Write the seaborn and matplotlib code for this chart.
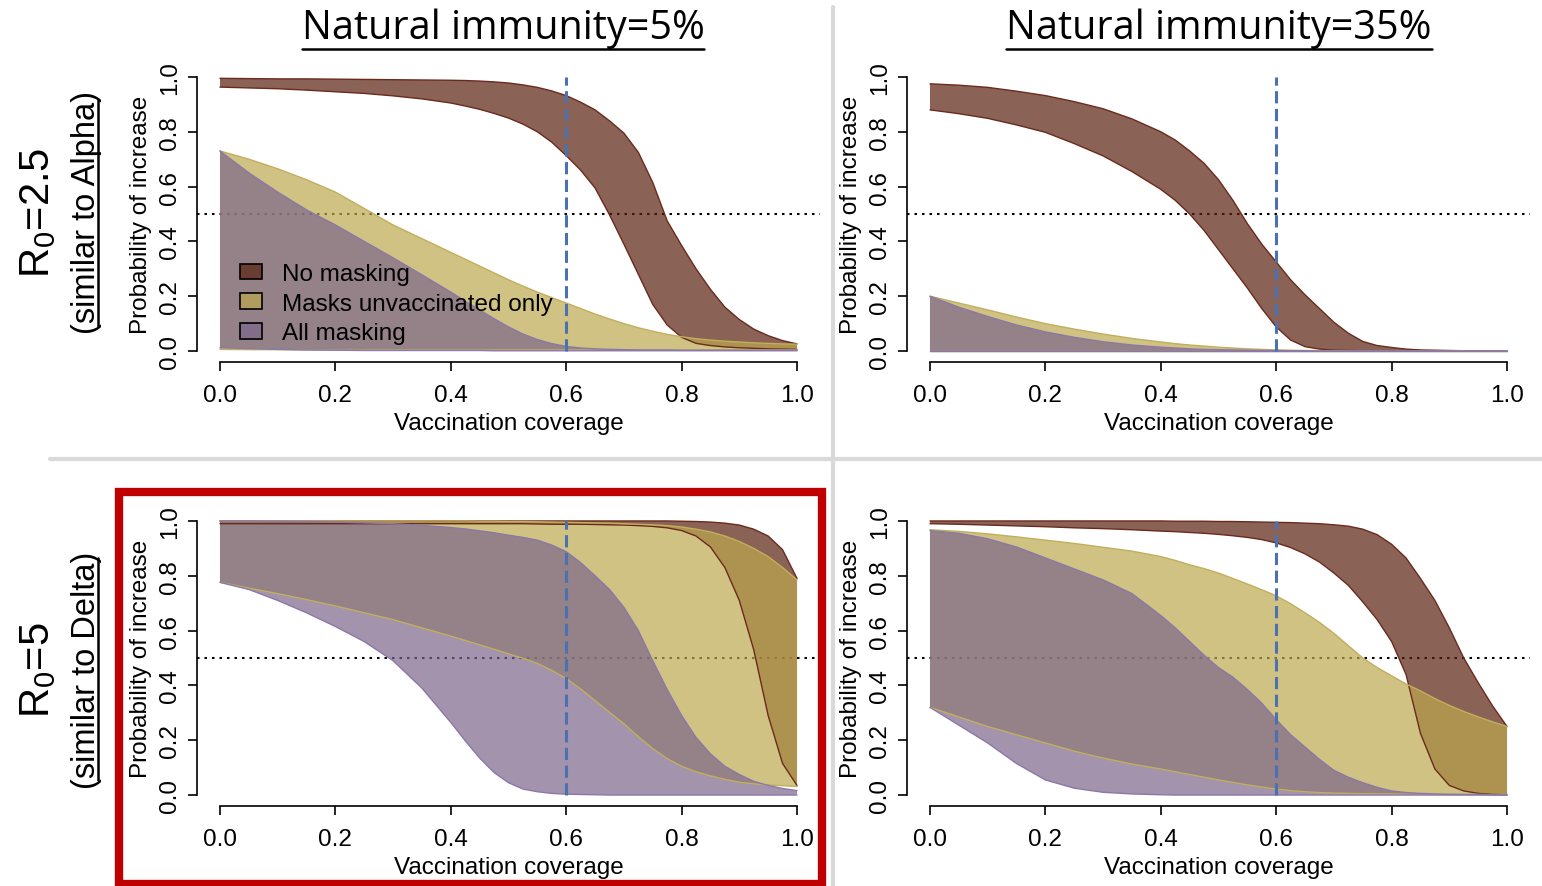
import matplotlib
matplotlib.use("Agg")
import matplotlib.pyplot as plt
from matplotlib.lines import Line2D
from matplotlib.patches import Patch, Rectangle
import seaborn as sns

# x grid shared by every band (vaccination coverage), finer where the curves drop fast
COVERAGE = [0.0, 0.05, 0.1, 0.15, 0.2, 0.25, 0.3, 0.35, 0.4, 0.425, 0.45, 0.475, 0.5, 0.525,
            0.55, 0.575, 0.6, 0.625, 0.65, 0.675, 0.7, 0.725, 0.75, 0.775, 0.8, 0.825, 0.85,
            0.875, 0.9, 0.925, 0.95, 0.975, 1.0]

# R0=2.5, natural immunity 5%
r25_ni5_none_hi = [0.995, 0.994, 0.993, 0.993, 0.992, 0.991, 0.99, 0.989, 0.988, 0.987, 0.985,
                   0.982, 0.978, 0.971, 0.962, 0.949, 0.932, 0.908, 0.88, 0.84, 0.795, 0.725,
                   0.615, 0.475, 0.385, 0.30, 0.225, 0.16, 0.115, 0.08, 0.056, 0.038, 0.026]
r25_ni5_none_lo = [0.963, 0.96, 0.957, 0.952, 0.946, 0.94, 0.931, 0.92, 0.905, 0.894, 0.882,
                   0.867, 0.85, 0.828, 0.80, 0.762, 0.713, 0.66, 0.595, 0.497, 0.39, 0.28,
                   0.17, 0.095, 0.05, 0.028, 0.02, 0.015, 0.012, 0.01, 0.008, 0.007, 0.006]
r25_ni5_unvac_hi = [0.73, 0.70, 0.665, 0.625, 0.58, 0.52, 0.46, 0.41, 0.36, 0.335, 0.31,
                    0.285, 0.26, 0.237, 0.215, 0.195, 0.175, 0.155, 0.135, 0.117, 0.10, 0.085,
                    0.072, 0.061, 0.052, 0.045, 0.04, 0.036, 0.033, 0.03, 0.028, 0.026, 0.025]
r25_ni5_unvac_lo = [0.006, 0.005, 0.005, 0.004, 0.004, 0.004, 0.004, 0.004, 0.004, 0.004, 0.004,
                    0.004, 0.004, 0.004, 0.004, 0.004, 0.004, 0.004, 0.004, 0.004, 0.004, 0.004,
                    0.004, 0.004, 0.004, 0.004, 0.004, 0.004, 0.004, 0.004, 0.004, 0.004, 0.004]
r25_ni5_all_hi = [0.73, 0.65, 0.58, 0.515, 0.46, 0.40, 0.34, 0.278, 0.215, 0.182, 0.15,
                  0.118, 0.088, 0.062, 0.042, 0.027, 0.017, 0.011, 0.008, 0.006, 0.005, 0.004,
                  0.004, 0.004, 0.003, 0.003, 0.003, 0.003, 0.003, 0.003, 0.003, 0.003, 0.003]
r25_ni5_all_lo = [0.012, 0.009, 0.006, 0.004, 0.003, 0.002, 0.002, 0.002, 0.002, 0.002, 0.002,
                  0.001, 0.001, 0.001, 0.001, 0.001, 0.001, 0.001, 0.001, 0.001, 0.001, 0.001,
                  0.001, 0.001, 0.001, 0.001, 0.001, 0.001, 0.001, 0.001, 0.001, 0.001, 0.001]

# R0=2.5, natural immunity 35%
r25_ni35_none_hi = [0.975, 0.97, 0.962, 0.948, 0.932, 0.91, 0.884, 0.847, 0.80, 0.77, 0.73,
                    0.685, 0.625, 0.55, 0.465, 0.39, 0.325, 0.26, 0.205, 0.155, 0.105, 0.065,
                    0.035, 0.02, 0.013, 0.007, 0.004, 0.003, 0.002, 0.001, 0.001, 0.0, 0.0]
r25_ni35_none_lo = [0.88, 0.866, 0.849, 0.825, 0.798, 0.757, 0.712, 0.655, 0.59, 0.55, 0.50,
                    0.44, 0.37, 0.30, 0.23, 0.155, 0.088, 0.04, 0.016, 0.007, 0.003, 0.002,
                    0.001, 0.0, 0.0, 0.0, 0.0, 0.0, 0.0, 0.0, 0.0, 0.0, 0.0]
r25_ni35_unvac_hi = [0.20, 0.175, 0.15, 0.124, 0.10, 0.08, 0.062, 0.046, 0.033, 0.027, 0.022,
                     0.018, 0.014, 0.011, 0.008, 0.006, 0.004, 0.003, 0.002, 0.0015, 0.001, 0.0005,
                     0.0, 0.0, 0.0, 0.0, 0.0, 0.0, 0.0, 0.0, 0.0, 0.0, 0.0]
r25_ni35_unvac_lo = [0.0, 0.0, 0.0, 0.0, 0.0, 0.0, 0.0, 0.0, 0.0, 0.0, 0.0,
                     0.0, 0.0, 0.0, 0.0, 0.0, 0.0, 0.0, 0.0, 0.0, 0.0, 0.0,
                     0.0, 0.0, 0.0, 0.0, 0.0, 0.0, 0.0, 0.0, 0.0, 0.0, 0.0]
r25_ni35_all_hi = [0.20, 0.16, 0.126, 0.095, 0.07, 0.05, 0.034, 0.022, 0.014, 0.011, 0.008,
                   0.006, 0.005, 0.004, 0.003, 0.002, 0.002, 0.001, 0.001, 0.0, 0.0, 0.0,
                   0.0, 0.0, 0.0, 0.0, 0.0, 0.0, 0.0, 0.0, 0.0, 0.0, 0.0]
r25_ni35_all_lo = [0.0, 0.0, 0.0, 0.0, 0.0, 0.0, 0.0, 0.0, 0.0, 0.0, 0.0,
                   0.0, 0.0, 0.0, 0.0, 0.0, 0.0, 0.0, 0.0, 0.0, 0.0, 0.0,
                   0.0, 0.0, 0.0, 0.0, 0.0, 0.0, 0.0, 0.0, 0.0, 0.0, 0.0]

# R0=5, natural immunity 5%
r5_ni5_none_hi = [1.0, 1.0, 1.0, 1.0, 1.0, 1.0, 1.0, 1.0, 1.0, 1.0, 1.0,
                  1.0, 1.0, 1.0, 1.0, 1.0, 1.0, 1.0, 1.0, 1.0, 1.0, 1.0,
                  1.0, 1.0, 0.999, 0.998, 0.996, 0.992, 0.985, 0.97, 0.945, 0.895, 0.79]
r5_ni5_none_lo = [0.99, 0.99, 0.99, 0.99, 0.99, 0.99, 0.99, 0.99, 0.99, 0.99, 0.99,
                  0.99, 0.99, 0.99, 0.989, 0.988, 0.988, 0.988, 0.987, 0.986, 0.985, 0.983,
                  0.98, 0.975, 0.965, 0.945, 0.905, 0.83, 0.71, 0.53, 0.29, 0.115, 0.035]
r5_ni5_unvac_hi = [1.0, 1.0, 1.0, 1.0, 1.0, 1.0, 1.0, 1.0, 1.0, 1.0, 0.999,
                   0.999, 0.998, 0.998, 0.997, 0.996, 0.995, 0.994, 0.993, 0.992, 0.99, 0.988,
                   0.986, 0.983, 0.978, 0.97, 0.96, 0.945, 0.925, 0.90, 0.87, 0.83, 0.785]
r5_ni5_unvac_lo = [0.776, 0.755, 0.735, 0.713, 0.69, 0.665, 0.64, 0.61, 0.58, 0.564, 0.548,
                   0.532, 0.515, 0.499, 0.48, 0.455, 0.425, 0.387, 0.345, 0.302, 0.26, 0.213,
                   0.17, 0.133, 0.105, 0.085, 0.07, 0.057, 0.047, 0.041, 0.037, 0.034, 0.031]
r5_ni5_all_hi = [1.0, 1.0, 0.999, 0.998, 0.996, 0.993, 0.99, 0.984, 0.976, 0.971, 0.964,
                 0.957, 0.948, 0.94, 0.93, 0.912, 0.888, 0.848, 0.80, 0.75, 0.685, 0.60,
                 0.49, 0.385, 0.29, 0.21, 0.15, 0.105, 0.075, 0.05, 0.035, 0.024, 0.016]
r5_ni5_all_lo = [0.776, 0.75, 0.71, 0.665, 0.615, 0.56, 0.49, 0.39, 0.265, 0.198, 0.135,
                 0.082, 0.045, 0.022, 0.012, 0.006, 0.003, 0.002, 0.001, 0.0, 0.0, 0.0,
                 0.0, 0.0, 0.0, 0.0, 0.0, 0.0, 0.0, 0.0, 0.0, 0.0, 0.0]

# R0=5, natural immunity 35%
r5_ni35_none_hi = [1.0, 1.0, 1.0, 1.0, 1.0, 1.0, 1.0, 1.0, 1.0, 0.999, 0.999,
                   0.999, 0.998, 0.998, 0.997, 0.996, 0.995, 0.994, 0.992, 0.99, 0.986, 0.981,
                   0.97, 0.95, 0.915, 0.865, 0.79, 0.71, 0.61, 0.50, 0.41, 0.325, 0.25]
r5_ni35_none_lo = [0.99, 0.988, 0.985, 0.982, 0.979, 0.975, 0.972, 0.968, 0.963, 0.961, 0.958,
                   0.955, 0.951, 0.946, 0.94, 0.932, 0.92, 0.903, 0.88, 0.85, 0.81, 0.765,
                   0.705, 0.64, 0.56, 0.44, 0.225, 0.095, 0.035, 0.015, 0.006, 0.002, 0.001]
r5_ni35_unvac_hi = [0.968, 0.962, 0.953, 0.942, 0.93, 0.918, 0.904, 0.89, 0.87, 0.856, 0.84,
                    0.826, 0.81, 0.79, 0.77, 0.749, 0.727, 0.698, 0.665, 0.63, 0.59, 0.545,
                    0.50, 0.465, 0.435, 0.405, 0.38, 0.352, 0.327, 0.305, 0.285, 0.267, 0.25]
r5_ni35_unvac_lo = [0.32, 0.285, 0.25, 0.22, 0.19, 0.16, 0.135, 0.113, 0.095, 0.085, 0.075,
                    0.065, 0.055, 0.046, 0.037, 0.029, 0.022, 0.016, 0.012, 0.009, 0.007, 0.006,
                    0.005, 0.0045, 0.004, 0.0035, 0.003, 0.0025, 0.002, 0.002, 0.002, 0.001, 0.001]
r5_ni35_all_hi = [0.965, 0.955, 0.935, 0.905, 0.865, 0.825, 0.785, 0.735, 0.655, 0.61, 0.56,
                  0.51, 0.465, 0.43, 0.385, 0.335, 0.275, 0.22, 0.175, 0.13, 0.09, 0.065,
                  0.045, 0.028, 0.015, 0.009, 0.006, 0.004, 0.003, 0.002, 0.002, 0.001, 0.001]
r5_ni35_all_lo = [0.32, 0.255, 0.19, 0.115, 0.055, 0.025, 0.01, 0.004, 0.001, 0.0, 0.0,
                  0.0, 0.0, 0.0, 0.0, 0.0, 0.0, 0.0, 0.0, 0.0, 0.0, 0.0,
                  0.0, 0.0, 0.0, 0.0, 0.0, 0.0, 0.0, 0.0, 0.0, 0.0, 0.0]

SCENARIOS = ["No masking", "Masks unvaccinated only", "All masking"]
FILLS = [(89 / 255, 32 / 255, 15 / 255, 0.7),
         (188 / 255, 168 / 255, 77 / 255, 0.7),
         (124 / 255, 102 / 255, 139 / 255, 0.7)]
EDGES = ["#6B2A1E", "#C2AE5C", "#8C78A8"]

TICKS = [0.0, 0.2, 0.4, 0.6, 0.8, 1.0]
THRESHOLD = 0.5
TARGET_COVERAGE = 0.6

W, H = 1542, 887

sns.set_theme(style="ticks", rc={"axes.edgecolor": "black", "xtick.color": "black",
                                 "ytick.color": "black", "axes.linewidth": 1.2,
                                 "text.color": "black", "axes.labelcolor": "black"})
plt.rcParams["font.family"] = ["Liberation Sans", "DejaVu Sans"]
plt.rcParams["mathtext.fontset"] = "custom"
plt.rcParams["mathtext.rm"] = "Liberation Sans"

fig = plt.figure(figsize=(W / 100, H / 100), dpi=100)


def px_axes(x0, y_top, x1, y_bot):
    return fig.add_axes([x0 / W, 1 - y_bot / H, (x1 - x0) / W, (y_bot - y_top) / H])


def draw_panel(ax, bands, legend=False):
    ax.axhline(THRESHOLD, color="black", lw=1.5, ls=(0, (1.2, 2.4)), zorder=1)
    for (hi, lo), fill, edge in zip(bands, FILLS, EDGES):
        ax.fill_between(COVERAGE, lo, hi, facecolor=fill, edgecolor="none", zorder=2)
        sns.lineplot(x=COVERAGE, y=hi, ax=ax, color=edge, lw=1.0, zorder=2.5)
        sns.lineplot(x=COVERAGE, y=lo, ax=ax, color=edge, lw=1.0, zorder=2.5)
    ax.plot([TARGET_COVERAGE, TARGET_COVERAGE], [0, 1], color="#4A72B0", lw=2.2,
            ls=(0, (4, 1.8)), zorder=3)

    ax.set_xlim(-0.04, 1.04)
    ax.set_ylim(-0.04, 1.04)
    ax.set_xticks(TICKS)
    ax.set_yticks(TICKS)
    ax.set_xticklabels([f"{t:.1f}" for t in TICKS])
    ax.set_yticklabels([f"{t:.1f}" for t in TICKS], rotation=90, va="center")
    ax.tick_params(axis="both", direction="out", length=6.5, width=1.2, labelsize=17.5)
    ax.tick_params(axis="x", pad=9)
    ax.tick_params(axis="y", pad=5)
    ax.set_xlabel("Vaccination coverage", fontsize=17.5, labelpad=5)
    ax.set_ylabel("Probability of increase", fontsize=17.5, labelpad=5)
    ax.set_facecolor("white")
    sns.despine(ax=ax, trim=True)

    if legend:
        handles = [Patch(facecolor=f, edgecolor="black", linewidth=1.2, label=s)
                   for f, s in zip(FILLS, SCENARIOS)]
        ax.legend(handles=handles, loc="upper left", bbox_to_anchor=(0.069, 0.334),
                  frameon=False, fontsize=17.5, handlelength=0.9, handleheight=0.62,
                  handletextpad=0.82, labelspacing=0.315, borderaxespad=0, borderpad=0)


ax_tl = px_axes(196.9, 67.0, 820.1, 363.0)
ax_tr = px_axes(906.9, 67.0, 1530.1, 363.0)
ax_bl = px_axes(196.9, 511.0, 820.1, 807.0)
ax_br = px_axes(906.9, 511.0, 1530.1, 807.0)

draw_panel(ax_tl, [(r25_ni5_none_hi, r25_ni5_none_lo), (r25_ni5_unvac_hi, r25_ni5_unvac_lo),
                   (r25_ni5_all_hi, r25_ni5_all_lo)], legend=True)
draw_panel(ax_tr, [(r25_ni35_none_hi, r25_ni35_none_lo), (r25_ni35_unvac_hi, r25_ni35_unvac_lo),
                   (r25_ni35_all_hi, r25_ni35_all_lo)])
draw_panel(ax_bl, [(r5_ni5_none_hi, r5_ni5_none_lo), (r5_ni5_unvac_hi, r5_ni5_unvac_lo),
                   (r5_ni5_all_hi, r5_ni5_all_lo)])
draw_panel(ax_br, [(r5_ni35_none_hi, r5_ni35_none_lo), (r5_ni35_unvac_hi, r5_ni35_unvac_lo),
                   (r5_ni35_all_hi, r5_ni35_all_lo)])

# separators and highlight box
fig.add_artist(Line2D([833 / W, 833 / W], [1 - 8 / H, 0], color="#D9D9D9", lw=3))
fig.add_artist(Line2D([50 / W, 1], [1 - 460 / H, 1 - 460 / H], color="#D9D9D9", lw=3))
fig.add_artist(Rectangle((119 / W, 1 - 885 / H), (822 - 119) / W, (885 - 493) / H,
                         fill=False, edgecolor="#C00000", lw=6))

# column titles and row labels
col_titles = [fig.text(503 / W, 1 - 39 / H, "Natural immunity=5%", ha="center", va="baseline",
                       fontsize=28.5, family=["Open Sans", "DejaVu Sans"]),
              fig.text(1219 / W, 1 - 39 / H, "Natural immunity=35%", ha="center", va="baseline",
                       fontsize=28.5, family=["Open Sans", "DejaVu Sans"])]
for y, r0 in [(213, "2.5"), (670, "5")]:
    fig.text(38 / W, 1 - y / H, r"R$_\mathregular{0}$=" + r0, rotation=90, ha="center",
             va="center", fontsize=30)
row_notes = [fig.text(87 / W, 1 - 213 / H, "(similar to Alpha)", rotation=90, ha="center",
                      va="center", fontsize=23.5),
             fig.text(87 / W, 1 - 670 / H, "(similar to Delta)", rotation=90, ha="center",
                      va="center", fontsize=23.5)]

fig.canvas.draw()
renderer = fig.canvas.get_renderer()
for t in col_titles:
    bb = t.get_window_extent(renderer)
    y = (bb.y0 - 1) / H
    fig.add_artist(Line2D([bb.x0 / W, bb.x1 / W], [y, y], color="black", lw=1.8))
for t in row_notes:
    bb = t.get_window_extent(renderer)
    x = (bb.x1 - 4) / W
    fig.add_artist(Line2D([x, x], [(bb.y0 + 8) / H, (bb.y1 - 8) / H], color="black", lw=1.8))

fig.savefig("out.png", dpi=100)
